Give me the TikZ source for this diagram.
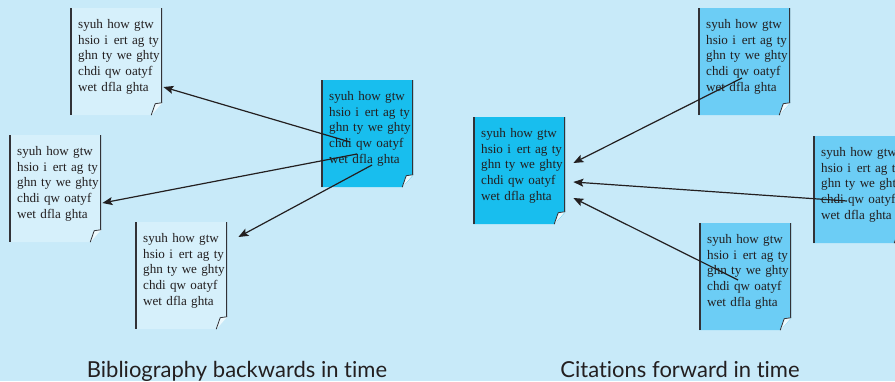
\documentclass[tikz,border=0pt]{standalone}
\usepackage{fontspec}
\setmainfont{Liberation Serif}
\newfontfamily\titlefont[Ligatures=NoCommon]{Lato}
\usetikzlibrary{positioning,arrows.meta,calc}

\definecolor{bgblue}{RGB}{200,234,249}
\definecolor{paleblue}{RGB}{214,240,251}
\definecolor{brightcyan}{RGB}{24,190,238}
\definecolor{midblue}{RGB}{108,205,245}
\definecolor{inkgrey}{RGB}{35,31,32}
\definecolor{edgegrey}{RGB}{50,50,55}

\newcommand{\fillertext}{\mbox{syuh how gtw}\\\mbox{hsio i\kern1.5pt\ ert ag ty}\\\mbox{ghn ty we ghty}\\\mbox{chdi qw oatyf}\\\mbox{wet dfla ghta}}

\tikzset{pagecol/.code={\colorlet{pagefill}{#1}}}

\begin{document}
\begin{tikzpicture}[x=1pt, y=-1pt,
  page/.style={rectangle, anchor=north west, inner xsep=8pt, inner ysep=0pt,
    text width=76pt, align=left, text height=20pt, text depth=87pt,
    text=inkgrey, font={\fontsize{13.1pt}{15.8pt}\selectfont\hbadness=10000\hfuzz=50pt},
    path picture={
      \fill[pagefill] (path picture bounding box.north west)
        -- (path picture bounding box.north east)
        -- ([yshift=12pt]path picture bounding box.south east)
        -- ([xshift=-11pt]path picture bounding box.south east)
        -- (path picture bounding box.south west) -- cycle;
      \draw[edgegrey, line width=2.8pt] (path picture bounding box.north west)
        -- (path picture bounding box.south west);
      \draw[edgegrey, line width=2.8pt] (path picture bounding box.north east)
        -- ([yshift=12pt]path picture bounding box.south east);
      \filldraw[fill=white!70!bgblue, draw=edgegrey, line width=0.8pt, line join=round]
        ([yshift=12.5pt]path picture bounding box.south east)
        -- ([xshift=-7pt, yshift=11.5pt]path picture bounding box.south east)
        -- ([xshift=-11pt]path picture bounding box.south east);
    }},
  oldpage/.style={page, pagecol=paleblue},
  keypage/.style={page, pagecol=brightcyan},
  citepage/.style={page, pagecol=midblue},
  arr/.style={draw=inkgrey, line width=1.2pt, -{Stealth[length=10pt, width=8pt, inset=2pt]}},
  caption/.style={anchor=base, text=inkgrey, font={\titlefont\fontsize{22pt}{26pt}\selectfont}}
]

\useasboundingbox (0,0) rectangle (895,381);
\clip (0,0) rectangle (895,381);
\fill[bgblue] (0,0) rectangle (895,381);

% backwards: one paper and its bibliography
\node[oldpage] (pA) at (70,8) {\fillertext};
\node[oldpage] (pB) at (9,135) {\fillertext};
\node[oldpage] (pC) at (135,222) {\fillertext};
\node[keypage] (pD) at (321,80) {\fillertext};

% forward: papers citing one paper
\node[keypage] (pE) at (473,117) {\fillertext};
\node[citepage] (pF) at (698,8) {\fillertext};
\node[citepage] (pG) at (813,136) {\fillertext};
\node[citepage] (pH) at (699,223) {\fillertext};

\draw[arr] ($(pD.north west)+(29,62)$) -- ($(pA.north east)+(1,79)$);
\draw[arr] ($(pD.north west)+(36,74)$) -- ($(pB.north east)+(1,68)$);
\draw[arr] ($(pD.north west)+(51,85)$) -- ($(pC.north east)+(11,15)$);

\draw[arr] ($(pF.north west)+(44,70)$) -- ($(pE.north east)+(8,46)$);
\draw[arr] ($(pG.north west)+(34,65)$) -- ($(pE.north east)+(8,65)$);
\draw[arr] ($(pH.north west)+(39,57)$) -- ($(pE.north east)+(8,81)$);

\node[caption] (capL) at (237,377) {Bibliography backwards in time};
\node[caption] (capR) at (680,377) {Citations forward in time};

\end{tikzpicture}
\end{document}
